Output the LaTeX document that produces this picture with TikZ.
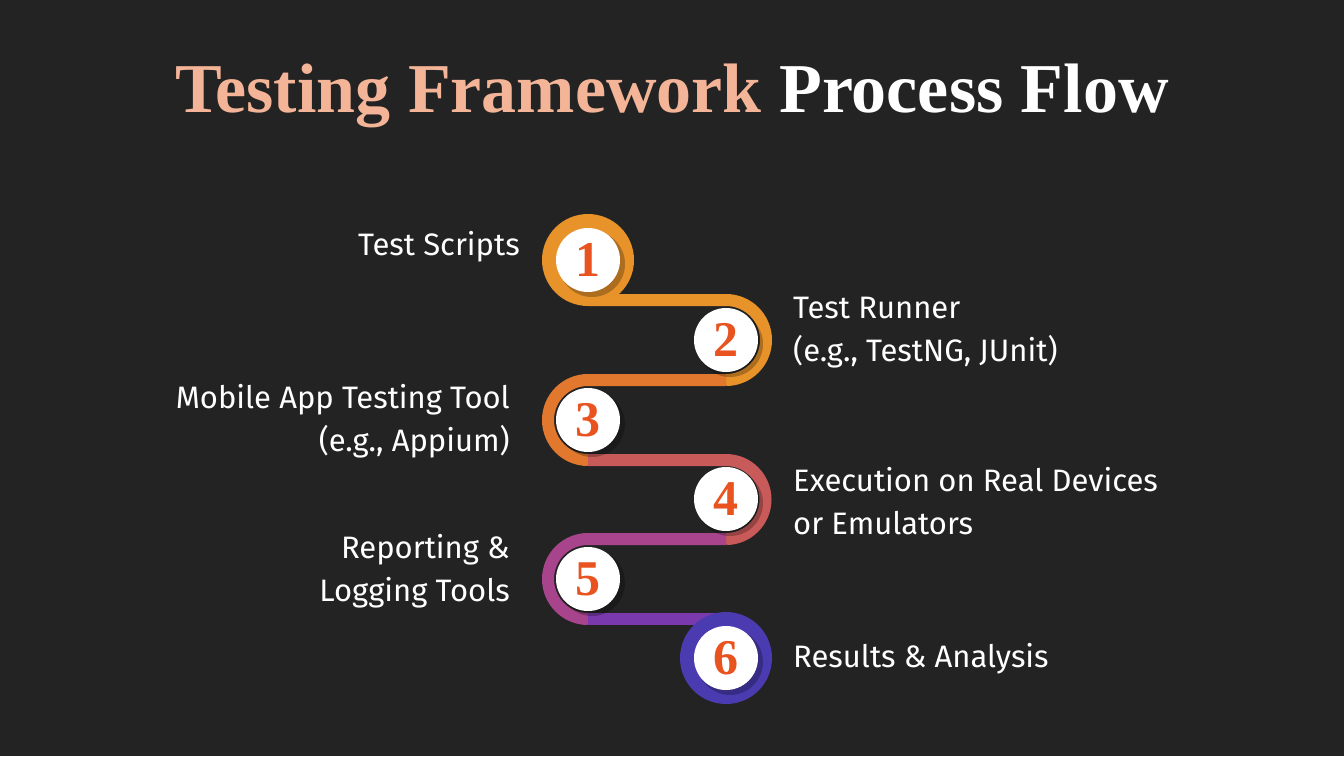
\documentclass[tikz,border=0pt]{standalone}
\usepackage{fontspec}
\setmainfont{Fira Sans}
\newfontfamily\titlefont{Liberation Serif}
\begin{document}
\begin{tikzpicture}[x=1pt,y=-1pt,
  band/.style={line width=12pt},
  disc/.style={circle,fill=white,minimum size=64pt,inner sep=0pt,font=\titlefont\bfseries\fontsize{50}{50}\selectfont,text=numcol},
  lbl/.style={text=white,font=\fontsize{31}{43}\selectfont,inner sep=0pt}]
\definecolor{bg}{HTML}{232323}
\definecolor{numcol}{HTML}{E8531F}
\definecolor{peach}{HTML}{F4B497}
\definecolor{c1}{HTML}{E8922A}
\definecolor{c2}{HTML}{E2782E}
\definecolor{c3}{HTML}{C85A5A}
\definecolor{c4}{HTML}{A8448C}
\definecolor{c5}{HTML}{7A3AAE}
\definecolor{c6}{HTML}{4A3CB0}
\fill[bg] (0,0) rectangle (1344,756);
\useasboundingbox (0,0) rectangle (1344,756);
\node[font=\titlefont\bfseries\fontsize{70}{70}\selectfont,anchor=base] (t) at (672,112) {\textcolor{peach}{Testing Framework} \textcolor{white}{Process Flow}};
\coordinate (A) at (588,260); \coordinate (B) at (726,340); \coordinate (C) at (588,420);
\coordinate (D) at (726,499); \coordinate (E) at (588,579); \coordinate (F) at (726,658);
\fill[c1] (A) circle (46);
\draw[band,c1] (588,300) -- (726,300) arc[start angle=-90,end angle=90,radius=40];
\draw[band,c2] (726,380) -- (588,380) arc[start angle=-90,end angle=-270,radius=40];
\draw[band,c3] (588,460) -- (726,460) arc[start angle=-90,end angle=90,radius=39.5];
\draw[band,c4] (726,539) -- (588,539) arc[start angle=-90,end angle=-270,radius=40];
\draw[band,c5] (588,619) -- (726,619);
\fill[c6] (F) circle (46);
\foreach \p/\n in {A/1,B/2,C/3,D/4,E/5,F/6}{
  \fill[black,opacity=0.25] ([shift={(4,4)}]\p) circle (33);
  \node[disc] (n\n) at (\p) {\n};
}
\node[lbl,anchor=base east] (l1) at (520,255) {Test Scripts};
\node[lbl,anchor=north west,align=left] (l2) at (793,297) {Test Runner\\(e.g., TestNG, JUnit)};
\node[lbl,anchor=north east,align=right] (l3) at (510,384) {Mobile App Testing Tool\\(e.g., Appium)};
\node[lbl,anchor=north west,align=left] (l4) at (793,467) {Execution on Real Devices\\or Emulators};
\node[lbl,anchor=north east,align=right] (l5) at (510,534) {Reporting \&\\Logging Tools};
\node[lbl,anchor=base west] (l6) at (793,667) {Results \& Analysis};
\end{tikzpicture}
\end{document}
